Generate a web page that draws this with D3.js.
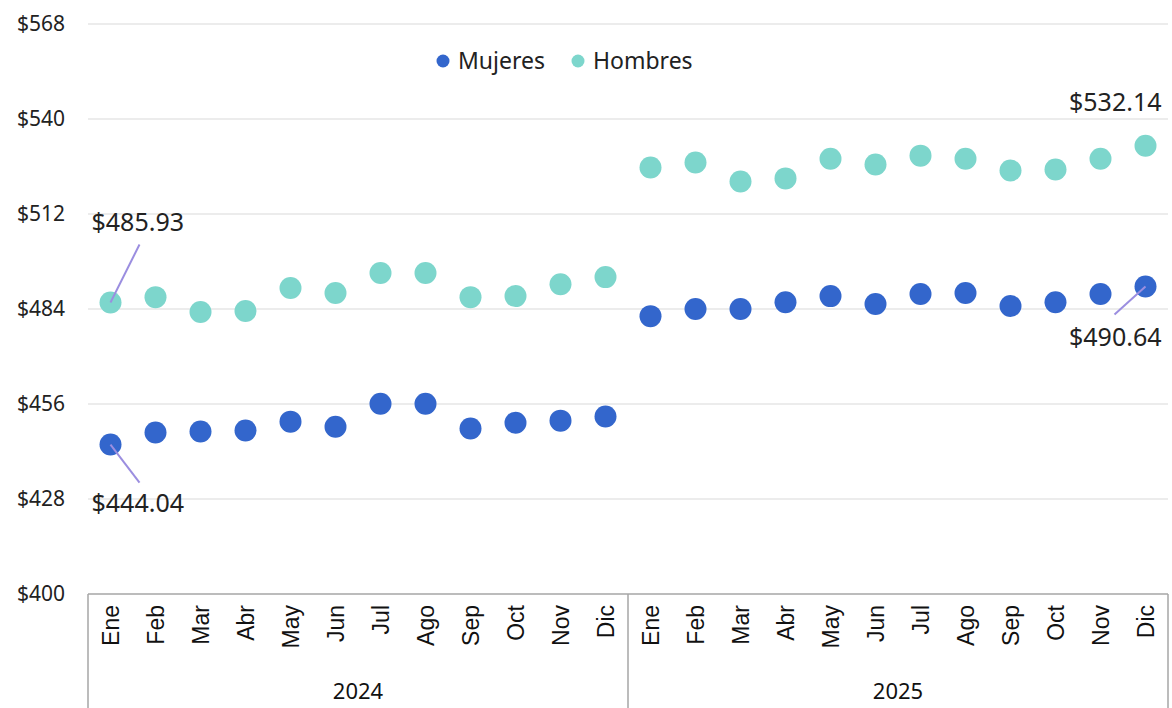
<!DOCTYPE html>
<html>
<head>
<meta charset="utf-8">
<script src="https://cdn.jsdelivr.net/npm/d3@7.9.0/dist/d3.min.js"></script>
<style>
  body { margin: 0; background: #fff; }
  svg { display: block; font-family: "Noto Sans", "DejaVu Sans", sans-serif; }
</style>
</head>
<body>
<svg id="chart" width="1172" height="708"></svg>
<script>
// ── Data ─────────────────────────────────────────────────────────────
const months = ['Ene', 'Feb', 'Mar', 'Abr', 'May', 'Jun', 'Jul', 'Ago', 'Sep', 'Oct', 'Nov', 'Dic'];
const years = ['2024', '2025'];

const mujeres = [
  444.04, 447.6, 447.9, 448.2, 450.8, 449.3, 456.1, 456.1, 448.8, 450.5, 451.1, 452.3,
  481.9, 484.0, 484.0, 486.0, 487.8, 485.5, 488.4, 488.7, 484.9, 486.0, 488.4, 490.64,
];
const hombres = [
  485.93, 487.5, 483.1, 483.4, 490.2, 488.7, 494.6, 494.6, 487.5, 487.8, 491.3, 493.4,
  525.7, 527.2, 521.6, 522.5, 528.3, 526.6, 529.2, 528.3, 524.8, 525.1, 528.3, 532.14,
];
const yTicks = [400, 428, 456, 484, 512, 540, 568];

const colMujeres = '#3366cc';
const colHombres = '#7dd6cc';
const colLeader = '#9b8ee0';

// ── Layout ───────────────────────────────────────────────────────────
const margin = { left: 88, right: 4, top: 24, bottom: 114 };
const W = 1172, H = 708;
const svg = d3.select('#chart');

const keys = years.flatMap((yr) => months.map((m) => `${yr}-${m}`));

const x = d3.scaleBand().domain(keys).range([margin.left, W - margin.right]);
const y = d3.scaleLinear().domain([400, 568]).range([H - margin.bottom, margin.top]);

// gridlines
svg.append('g')
  .selectAll('line')
  .data(yTicks.slice(1))
  .join('line')
  .attr('x1', margin.left)
  .attr('x2', W - margin.right)
  .attr('y1', (d) => y(d))
  .attr('y2', (d) => y(d))
  .attr('stroke', '#d9d9d9')
  .attr('stroke-width', 1);

// y labels (vertically centred on the gridline)
svg.append('g')
  .selectAll('text')
  .data(yTicks)
  .join('text')
  .attr('x', 65)
  .attr('y', (d) => y(d))
  .attr('dy', '0.35em')
  .attr('text-anchor', 'end')
  .attr('font-size', 21)
  .attr('fill', '#222')
  .text((d) => `$${d}`);

// category box
const axisY = y(400);
const boxColor = '#a6a6a6';
svg.append('line')
  .attr('x1', margin.left).attr('x2', W - margin.right)
  .attr('y1', axisY).attr('y2', axisY)
  .attr('stroke', boxColor).attr('stroke-width', 1.5);
const seps = [keys[0], keys[12]].map((k) => x(k)).concat([x.range()[1]]);
svg.append('g')
  .selectAll('line')
  .data(seps)
  .join('line')
  .attr('x1', (d) => d).attr('x2', (d) => d)
  .attr('y1', axisY).attr('y2', H)
  .attr('stroke', boxColor).attr('stroke-width', 1.5);

// month labels (rotated)
svg.append('g')
  .selectAll('text')
  .data(keys)
  .join('text')
  .attr('transform', (d) => `translate(${x(d) + x.bandwidth() / 2 + 8},${axisY + 11}) rotate(-90)`)
  .attr('text-anchor', 'end')
  .attr('font-family', '"Liberation Sans", Arial, sans-serif')
  .attr('font-size', 23)
  .attr('fill', '#111')
  .text((d) => d.split('-')[1]);

// year labels
svg.append('g')
  .selectAll('text')
  .data(years)
  .join('text')
  .attr('x', (yr) => (x(`${yr}-Ene`) + x(`${yr}-Dic`) + x.bandwidth()) / 2)
  .attr('y', 699)
  .attr('text-anchor', 'middle')
  .attr('font-size', 22)
  .attr('fill', '#111')
  .text((d) => d);

// dots
const cx = (i) => x(keys[i]) + x.bandwidth() / 2;
const r = 11;
function drawSeries(values, color) {
  svg.append('g')
    .selectAll('circle')
    .data(values)
    .join('circle')
    .attr('cx', (d, i) => cx(i))
    .attr('cy', (d) => y(d))
    .attr('r', r)
    .attr('fill', color);
}
drawSeries(hombres, colHombres);
drawSeries(mujeres, colMujeres);

// data labels with leader lines
const last = keys.length - 1;
const labels = [
  { i: 0, v: hombres[0], dx: 29, dy: -58, tx: -19, ty: -71, anchor: 'start' },
  { i: 0, v: mujeres[0], dx: 29, dy: 38, tx: -19, ty: 67, anchor: 'start' },
  { i: last, v: hombres[last], dx: 0, dy: 0, tx: 16, ty: -35, anchor: 'end', noLine: true },
  { i: last, v: mujeres[last], dx: -31, dy: 28, tx: 16, ty: 60, anchor: 'end' },
];
labels.forEach((l) => {
  const px = cx(l.i), py = y(l.v);
  if (!l.noLine) {
    svg.append('line')
      .attr('x1', px).attr('y1', py)
      .attr('x2', px + l.dx).attr('y2', py + l.dy)
      .attr('stroke', colLeader).attr('stroke-width', 2);
  }
  svg.append('text')
    .attr('x', px + l.tx)
    .attr('y', py + l.ty)
    .attr('text-anchor', l.anchor)
    .attr('font-size', 25)
    .attr('fill', '#222')
    .text(`$${l.v.toFixed(2)}`);
});

// legend
const legend = svg.append('g').attr('transform', 'translate(443,61)');
[['Mujeres', colMujeres, 0], ['Hombres', colHombres, 135]].forEach(([name, c, off]) => {
  legend.append('circle').attr('cx', off).attr('cy', 0).attr('r', 6.5).attr('fill', c);
  legend.append('text')
    .attr('x', off + 15).attr('y', 0).attr('dy', '0.35em')
    .attr('font-size', 23).attr('fill', '#222')
    .text(name);
});
</script>
</body>
</html>
